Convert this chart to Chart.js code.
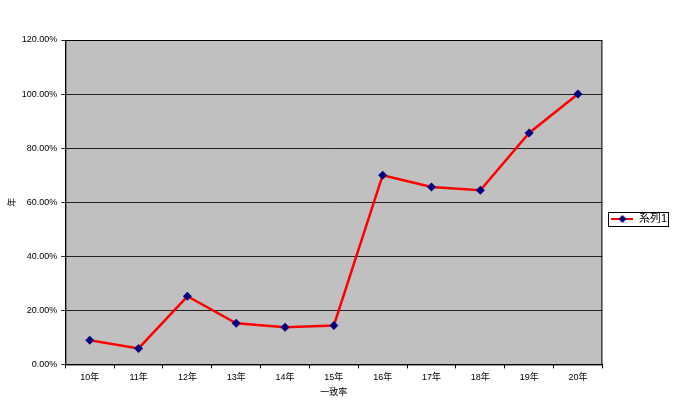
<!DOCTYPE html>
<html>
<head>
<meta charset="utf-8">
<script src="https://cdn.jsdelivr.net/npm/chart.js@4"></script>
<style>
  body { margin: 0; background: #fff; }
  #wrap { width: 680px; height: 400px; }
</style>
</head>
<body>
<div id="wrap"><canvas id="chart"></canvas></div>
<script>
let years = ['10年', '11年', '12年', '13年', '14年', '15年', '16年', '17年', '18年', '19年', '20年'];
let rates = [8.9, 5.9, 25.2, 15.2, 13.7, 14.4, 70.0, 65.6, 64.4, 85.6, 100.0];
let seriesName = '系列1';
let yTicks = [0, 20, 40, 60, 80, 100, 120];

let font = { family: "'Liberation Sans', 'Noto Sans CJK JP', sans-serif", size: 9 };
let legendFont = { family: "'Liberation Sans', 'Noto Sans CJK JP', sans-serif", size: 11 };

// little line+diamond image for the legend
function legendIcon() {
  let c = document.createElement('canvas');
  c.width = 22; c.height = 10;
  let g = c.getContext('2d');
  g.strokeStyle = '#ff0000';
  g.lineWidth = 2;
  g.beginPath(); g.moveTo(0, 5); g.lineTo(22, 5); g.stroke();
  g.fillStyle = '#000080';
  g.beginPath(); g.moveTo(11, 1); g.lineTo(15, 5); g.lineTo(11, 9); g.lineTo(7, 5); g.closePath(); g.fill();
  return c;
}

let plotBg = {
  id: 'plotBg',
  beforeDraw(chart) {
    let a = chart.chartArea, ctx = chart.ctx;
    ctx.save();
    ctx.fillStyle = '#c0c0c0';
    ctx.fillRect(a.left, a.top, a.right - a.left, a.bottom - a.top);
    ctx.restore();
  },
  afterDraw(chart) {
    let a = chart.chartArea, ctx = chart.ctx;
    ctx.save();
    ctx.strokeStyle = '#000';
    ctx.lineWidth = 1;
    ctx.strokeRect(a.left + 0.5, a.top + 0.5, a.right - a.left - 1, a.bottom - a.top);
    // border round the legend
    let l = chart.legend;
    if (l && l.legendHitBoxes.length) {
      let b = l.legendHitBoxes[0];
      ctx.strokeRect(Math.round(b.left) - 2.5, Math.round(b.top) - 1.5, Math.round(b.width) + 4, Math.round(b.height) + 3);
    }
    ctx.restore();
  }
};

new Chart(document.getElementById('chart'), {
  type: 'line',
  data: {
    labels: years,
    datasets: [{
      label: seriesName,
      data: rates,
      borderColor: '#ff0000',
      borderWidth: 2.5,
      pointStyle: 'rectRot',
      pointRadius: 4.5,
      pointBackgroundColor: '#000080',
      pointBorderColor: '#000080',
      pointBorderWidth: 0,
      tension: 0
    }]
  },
  options: {
    responsive: true,
    maintainAspectRatio: false,
    animation: false,
    layout: { padding: { top: 40, right: 3, bottom: 2, left: 0 } },
    plugins: {
      tooltip: { enabled: false },
      legend: {
        position: 'right',
        labels: {
          font: legendFont,
          color: '#000',
          boxWidth: 22,
          pointStyleWidth: 22,
          padding: 9,
          usePointStyle: true,
          generateLabels(chart) {
            return [{ text: seriesName, pointStyle: legendIcon(), fillStyle: '#fff', strokeStyle: '#fff', lineWidth: 0, datasetIndex: 0 }];
          }
        }
      }
    },
    scales: {
      x: {
        offset: true,
        grid: { drawOnChartArea: false, color: '#000', tickLength: 4, offset: true },
        border: { color: '#000' },
        ticks: { font: font, color: '#000', padding: 4 },
        title: { display: true, text: '一致率', font: font, color: '#000', padding: { top: 0, bottom: 0 } }
      },
      y: {
        min: 0,
        max: 120,
        afterBuildTicks(axis) { axis.ticks = yTicks.map(v => ({ value: v })); },
        grid: { color: '#222', tickLength: 4 },
        border: { color: '#000' },
        ticks: { font: font, color: '#000', padding: 4, callback: v => v.toFixed(2) + '%' },
        title: { display: true, text: '年', font: font, color: '#000', padding: { top: 7, bottom: 0 } }
      }
    }
  },
  plugins: [plotBg]
});
</script>
</body>
</html>
